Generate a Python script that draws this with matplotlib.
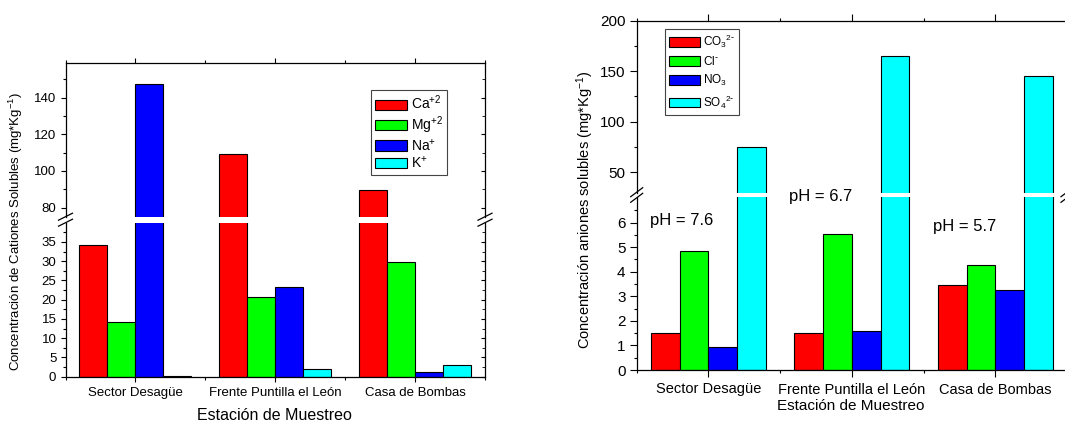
import numpy as np
import matplotlib
matplotlib.use("Agg")
import matplotlib.pyplot as plt
from matplotlib.patches import Patch
from matplotlib.lines import Line2D

plt.rcParams['font.family'] = ['Liberation Sans', 'DejaVu Sans']
plt.rcParams['mathtext.default'] = 'regular'

estaciones = ['Sector Desagüe', 'Frente Puntilla el León', 'Casa de Bombas']

# cationes (mg*Kg-1)
ca = [34.3, 109.4, 89.6]
mg = [14.1, 20.6, 29.9]
na = [147.7, 23.2, 1.35]
k = [0.2, 1.95, 2.95]
lab_cat = ['Ca$^{+2}$', 'Mg$^{+2}$', 'Na$^{+}$', 'K$^{+}$']

# aniones (mg*Kg-1)
co3 = [1.49, 1.52, 3.46]
cl = [4.83, 5.55, 4.26]
no3 = [0.92, 1.59, 3.27]
so4 = [74.8, 165.4, 145.0]
lab_an = ['CO$_3$$^{2\\text{-}}$', 'Cl$^{\\text{-}}$', 'NO$_3$', 'SO$_4$$^{2\\text{-}}$']

ph = ['pH = 7.6', 'pH = 6.7', 'pH = 5.7']

colores = ['#ff0000', '#00ff00', '#0000ff', '#00ffff']

W, H = 1065, 421
fig = plt.figure(figsize=(W / 100, H / 100), dpi=100)


def caja(x0, y0, x1, y1):
    # pixeles de la imagen -> fraccion de figura
    return [x0 / W, 1 - y1 / H, (x1 - x0) / W, (y1 - y0) / H]


def corte(x, y, dx, dy):
    fig.add_artist(Line2D([(x - dx) / W, (x + dx) / W],
                          [1 - (y + dy) / H, 1 - (y - dy) / H],
                          color='black', lw=0.9))


def barras(ax, series):
    x = np.arange(1, 4)
    for i in range(len(series)):
        ax.bar(x + (i - 1.5) * 0.2, series[i], 0.2, color=colores[i],
               edgecolor='black', linewidth=0.8)


def ejes(ax, xlim, ylim, yt, ytm, arriba, fs, fsx, largo, pad_x, derecha=True):
    ax.set_xlim(*xlim)
    ax.set_ylim(*ylim)
    ax.set_xticks([1, 2, 3])
    ax.set_xticks([0.5, 1.5, 2.5, 3.5], minor=True)
    ax.set_yticks(yt)
    ax.set_yticks(ytm, minor=True)
    ax.tick_params(axis='both', which='major', direction='out', length=largo,
                   width=0.8, labelsize=fs, pad=3)
    ax.tick_params(axis='both', which='minor', direction='out', length=2.2,
                   width=0.8)
    if arriba:
        ax.spines['bottom'].set_visible(False)
        ax.tick_params(axis='x', which='both', bottom=False, labelbottom=False,
                       top=True, labeltop=False)
    else:
        ax.spines['top'].set_visible(False)
        ax.set_xticklabels(estaciones)
        ax.tick_params(axis='x', which='major', pad=pad_x, labelsize=fsx)
    for s in ax.spines.values():
        s.set_linewidth(0.9)
    if derecha:
        tw = ax.twinx()
        tw.set_ylim(*ylim)
        tw.set_yticks(yt)
        tw.set_yticks(ytm, minor=True)
        tw.tick_params(axis='y', which='major', direction='in', length=3, labelright=False)
        tw.tick_params(axis='y', which='minor', direction='in', length=2, labelright=False)
        for s in tw.spines.values():
            s.set_visible(False)


## CATIONES
a1 = fig.add_axes(caja(65.5, 63, 485, 216.7))
a2 = fig.add_axes(caja(65.5, 222.7, 485, 376.7))
for ax in (a1, a2):
    barras(ax, [ca, mg, na, k])
ejes(a1, (0.5, 3.5), (75, 159), [80, 100, 120, 140], [90, 110, 130, 150], True, 9.5, 9.5, 3.6, 3)
ejes(a2, (0.5, 3.5), (0, 40), np.arange(0, 36, 5), np.arange(2.5, 40, 5), False, 9.5, 9.5, 3.6, 3.5)
for xx in (65.5, 485):
    corte(xx, 216.7, 7, 3.5)
    corte(xx, 222.7, 7, 3.5)

leg = fig.legend([Patch(facecolor=c, edgecolor='black', linewidth=0.8) for c in colores],
                 lab_cat, loc='upper left', bbox_to_anchor=(371 / W, 1 - 90 / H),
                 fontsize=10, handlelength=2.3, handleheight=0.75, handletextpad=0.3,
                 borderpad=0.28, labelspacing=0.12, borderaxespad=0, fancybox=False,
                 edgecolor='#444444', framealpha=1)
leg.get_frame().set_linewidth(0.8)

fig.text(15.5 / W, 1 - 232 / H, 'Concentración de Cationes Solubles (mg*Kg$^{-1}$)',
         rotation=90, ha='center', va='center', fontsize=9.5)
fig.text(274.5 / W, 1 - 415 / H, 'Estación de Muestreo', ha='center', va='center',
         fontsize=11.5)

## ANIONES
b1 = fig.add_axes(caja(636.7, 20.7, 1067, 192.7))
b2 = fig.add_axes(caja(636.7, 197.3, 1067, 370))
for ax in (b1, b2):
    barras(ax, [co3, cl, no3, so4])
ejes(b1, (0.515, 3.5), (29.5, 200), [50, 100, 150, 200], [75, 125, 175], True, 11, 10.5, 5, 3,
     derecha=False)
ejes(b2, (0.515, 3.5), (0, 7.03), np.arange(0, 7), np.arange(0.5, 7, 1), False, 11, 10.5, 5, 4,
     derecha=False)
for xx in (636.7, 1067):
    corte(xx, 192.2, 6, 4.5)
    corte(xx, 197.8, 6, 4.5)

leg = fig.legend([Patch(facecolor=c, edgecolor='black', linewidth=0.8) for c in colores],
                 lab_an, loc='upper left', bbox_to_anchor=(665 / W, 1 - 29 / H),
                 fontsize=8.5, handlelength=2.6, handleheight=0.9, handletextpad=0.3,
                 borderpad=0.35, labelspacing=0.42, borderaxespad=0, fancybox=False,
                 edgecolor='#444444', framealpha=1)
leg.get_frame().set_linewidth(0.8)

fig.text(585 / W, 1 - 209.5 / H, 'Concentración aniones solubles (mg*Kg$^{-1}$)',
         rotation=90, ha='center', va='center', fontsize=10.5)
fig.text(850.8 / W, 1 - 405.5 / H, 'Estación de Muestreo', ha='center', va='center',
         fontsize=11)

pos_ph = [(650, 220.7), (789, 196.7), (933, 226.7)]
for i in range(3):
    fig.text(pos_ph[i][0] / W, 1 - pos_ph[i][1] / H, ph[i], ha='left', va='center',
             fontsize=12, zorder=10)

fig.savefig('out.png', dpi=100, facecolor='white')
